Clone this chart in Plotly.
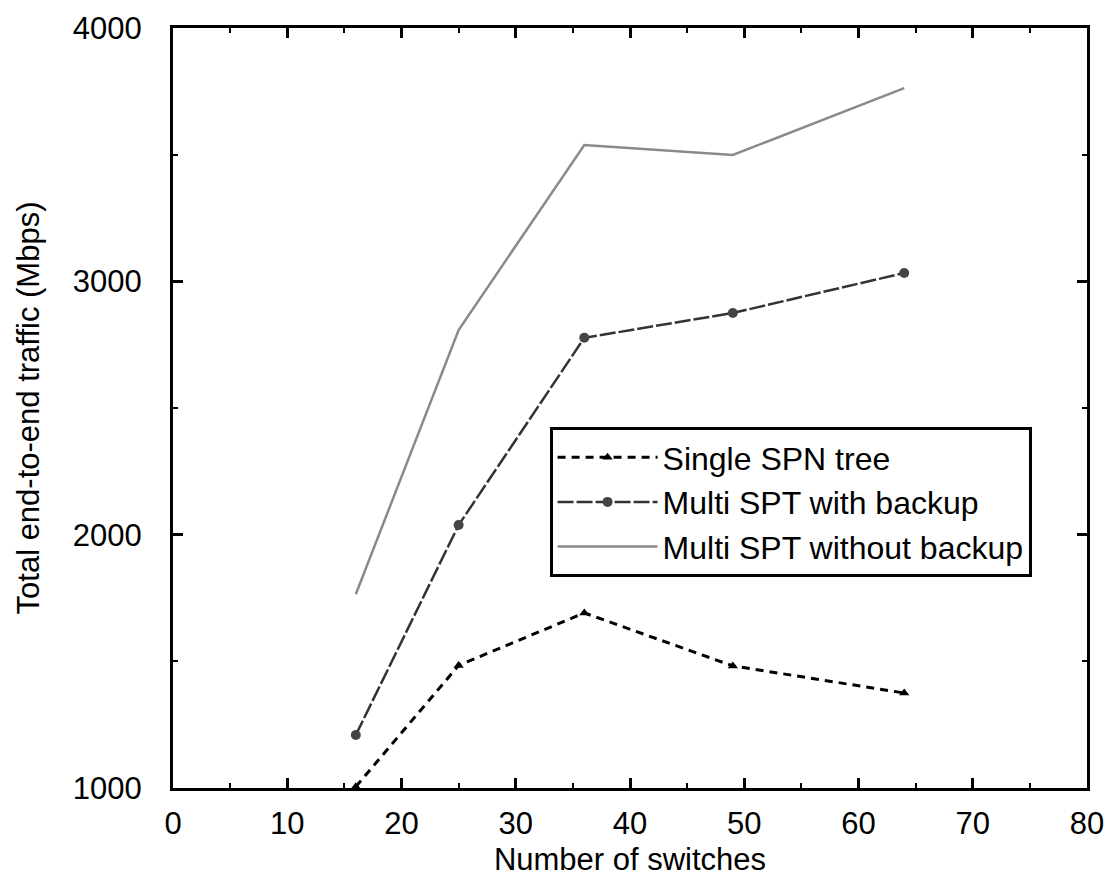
import plotly.graph_objects as go

x_switches = [16, 25, 36, 49, 64]
single_spn = [1005, 1484, 1691, 1482, 1375]
multi_backup = [1209, 2038, 2777, 2875, 3033]
multi_no_backup = [1765, 2808, 3538, 3499, 3763]

FONT = "Liberation Sans, Arial, sans-serif"

fig = go.Figure()
fig.add_trace(go.Scatter(
    x=x_switches, y=single_spn, name="Single SPN tree",
    mode="lines+markers",
    line=dict(color="black", width=3, dash="8px,6px"),
    marker=dict(symbol="triangle-up", size=9, color="black"),
))
fig.add_trace(go.Scatter(
    x=x_switches, y=multi_backup, name="Multi SPT with backup",
    mode="lines+markers",
    line=dict(color="#333333", width=2.5, dash="16px,3px"),
    marker=dict(symbol="circle", size=10, color="#444444"),
))
fig.add_trace(go.Scatter(
    x=x_switches, y=multi_no_backup, name="Multi SPT without backup",
    mode="lines",
    line=dict(color="#8a8a8a", width=2.5),
))

axis_common = dict(
    showline=True, linecolor="black", linewidth=3, mirror="ticks",
    ticks="inside", ticklen=10, tickwidth=3, tickcolor="black",
    showgrid=False, zeroline=False, automargin=False,
    tickfont=dict(family=FONT, size=31, color="black"),
)

fig.update_xaxes(
    range=[0, 80], dtick=10, tick0=0,
    minor=dict(ticks="inside", dtick=5, ticklen=5, tickwidth=2, tickcolor="black"),
    title=dict(text="Number of switches", font=dict(family=FONT, size=31, color="black"), standoff=14),
    ticklabelstandoff=6,
    **axis_common,
)
fig.update_yaxes(
    range=[1000, 4000], dtick=1000, tick0=1000,
    minor=dict(ticks="inside", dtick=500, ticklen=5, tickwidth=2, tickcolor="black"),
    title=dict(text="Total end-to-end traffic (Mbps)", font=dict(family=FONT, size=31, color="black"), standoff=24),
    ticklabelstandoff=22,
    **axis_common,
)

fig.update_layout(
    width=1110, height=877,
    margin=dict(l=173, r=23, t=28, b=89),
    paper_bgcolor="white", plot_bgcolor="white",
    showlegend=True,
    legend=dict(
        x=0.412, y=0.475, xanchor="left", yanchor="top",
        bgcolor="white", bordercolor="black", borderwidth=3,
        font=dict(family=FONT, size=32, color="black"),
        itemwidth=100, tracegroupgap=0,
    ),
)

fig.write_html("out.html")
